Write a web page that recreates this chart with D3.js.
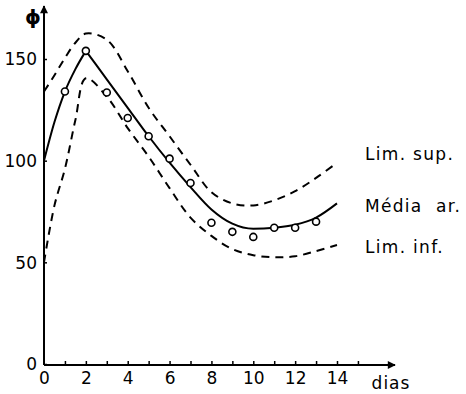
<!DOCTYPE html>
<html lang="pt">
<head>
  <meta charset="UTF-8" />
  <title>Média ar. e limites</title>
  <style>
    * { margin:0; padding:0; }
    body { background:#fff; overflow:hidden; }
    svg { display:block; }
    text { font-family:'DejaVu Sans',sans-serif; fill:#000; }
    .lbl { font-size:17px; letter-spacing:1.3px; white-space:pre; }
  </style>
</head>
<body>
<script src="https://d3js.org/d3.v7.min.js"></script>
<script>
  const W = 466, H = 394;
  // days used by the curves (half days at the start where the curves bend fast)
  const days = [0, 0.5, 1, 1.5, 2, 3, 4, 5, 6, 7, 8, 9, 10, 11, 12, 13, 14];
  const media = [100, 119, 134, 145, 154, 140, 126, 112, 99, 87, 76, 69, 66.5, 67, 68.5, 72, 79];
  const limSup = [134, 142, 150.5, 158, 162.5, 159.5, 144, 126, 112, 98, 84.5, 79, 78, 80.5, 85, 91.5, 99];
  const limInf = [50, 78, 96, 120, 140.5, 131.5, 116, 102, 86.5, 72, 63, 56.5, 53.5, 52.5, 53, 55.5, 58.5];
  // observed points
  const obsDays = [1, 2, 3, 4, 5, 6, 7, 8, 9, 10, 11, 12, 13];
  const obsVals = [134, 154, 133.5, 121, 112, 101, 89, 69.5, 65, 62.5, 67, 67, 70];
  const xTickLabels = [0, 2, 4, 6, 8, 10, 12, 14];
  const xMinorTicks = d3.range(1, 16);
  const yTickLabels = [0, 50, 100, 150];
  const legend = ['Lim. sup.', 'Média  ar.', 'Lim. inf.'];
  const peakDay = 2;

  const svg = d3.select('body').append('svg').attr('width', W).attr('height', H);
  const x = d3.scaleLinear().domain([0, 14]).range([44, 337]);
  const y = d3.scaleLinear().domain([0, 150]).range([364, 59]);

  // x axis: minor ticks + labels
  svg.append('g').attr('transform', `translate(0,${y(0)})`)
    .call(d3.axisBottom(x).tickValues(xMinorTicks).tickSize(-3).tickFormat(''))
    .call(g => g.select('.domain').remove())
    .call(g => g.selectAll('line').attr('stroke-width', 1.5));
  svg.append('g').attr('transform', `translate(0,${y(0)})`)
    .call(d3.axisBottom(x).tickValues(xTickLabels).tickSize(0).tickPadding(8).tickFormat(d3.format('d')))
    .call(g => g.select('.domain').remove())
    .call(g => g.selectAll('text').attr('font-size', 17));

  // y axis
  svg.append('g').attr('transform', `translate(${x(0)},0)`)
    .call(d3.axisLeft(y).tickValues(yTickLabels).tickSize(-3).tickPadding(7).tickFormat(d3.format('d')))
    .call(g => g.select('.domain').remove())
    .call(g => g.selectAll('line').attr('stroke-width', 1.5))
    .call(g => g.selectAll('text').attr('font-size', 17).attr('dy', '0.35em'));

  // axis lines with arrows
  svg.append('defs').append('marker')
    .attr('id', 'arr').attr('viewBox', '0 0 10 10').attr('refX', 9).attr('refY', 5)
    .attr('markerWidth', 5).attr('markerHeight', 4).attr('orient', 'auto')
    .append('path').attr('d', 'M0,0L10,5L0,10Z').attr('fill', '#000');
  svg.append('line').attr('x1', x(0)).attr('y1', y(0) + 1).attr('x2', 395).attr('y2', y(0) + 1)
    .attr('stroke', '#000').attr('stroke-width', 2).attr('marker-end', 'url(#arr)');
  svg.append('line').attr('x1', x(0)).attr('y1', y(0) + 1).attr('x2', x(0)).attr('y2', 6)
    .attr('stroke', '#000').attr('stroke-width', 2).attr('marker-end', 'url(#arr)');

  svg.append('text').attr('x', 33).attr('y', 24).attr('text-anchor', 'middle')
    .attr('font-size', 20).attr('font-weight', 'bold').text('ϕ');
  svg.append('text').attr('x', 391).attr('y', 389).attr('text-anchor', 'middle')
    .attr('font-size', 17).attr('letter-spacing', 1).text('dias');

  const pts = arr => days.map((d, i) => [d, arr[i]]);
  const dashed = d3.line().x(d => x(d[0])).y(d => y(d[1])).curve(d3.curveCatmullRom.alpha(0.5));
  const solid = d3.line().x(d => x(d[0])).y(d => y(d[1])).curve(d3.curveMonotoneX);

  [limSup, limInf].forEach(s => {
    svg.append('path').attr('d', dashed(pts(s)))
      .attr('fill', 'none').attr('stroke', '#000').attr('stroke-width', 2)
      .attr('stroke-dasharray', '8,6');
  });
  // mean curve: two pieces so the peak stays sharp
  const mp = pts(media);
  const pk = days.indexOf(peakDay);
  [mp.slice(0, pk + 1), mp.slice(pk)].forEach(seg => {
    svg.append('path').attr('d', solid(seg))
      .attr('fill', 'none').attr('stroke', '#000').attr('stroke-width', 2);
  });

  svg.append('g').selectAll('circle').data(obsDays).join('circle')
    .attr('cx', d => x(d)).attr('cy', (d, i) => y(obsVals[i])).attr('r', 3.5)
    .attr('fill', '#fff').attr('stroke', '#000').attr('stroke-width', 1.6);

  svg.append('g').selectAll('text').data(legend).join('text')
    .attr('class', 'lbl').attr('x', 365)
    .attr('y', (d, i) => [160, 212, 253][i]).text(d => d);
</script>
</body>
</html>
